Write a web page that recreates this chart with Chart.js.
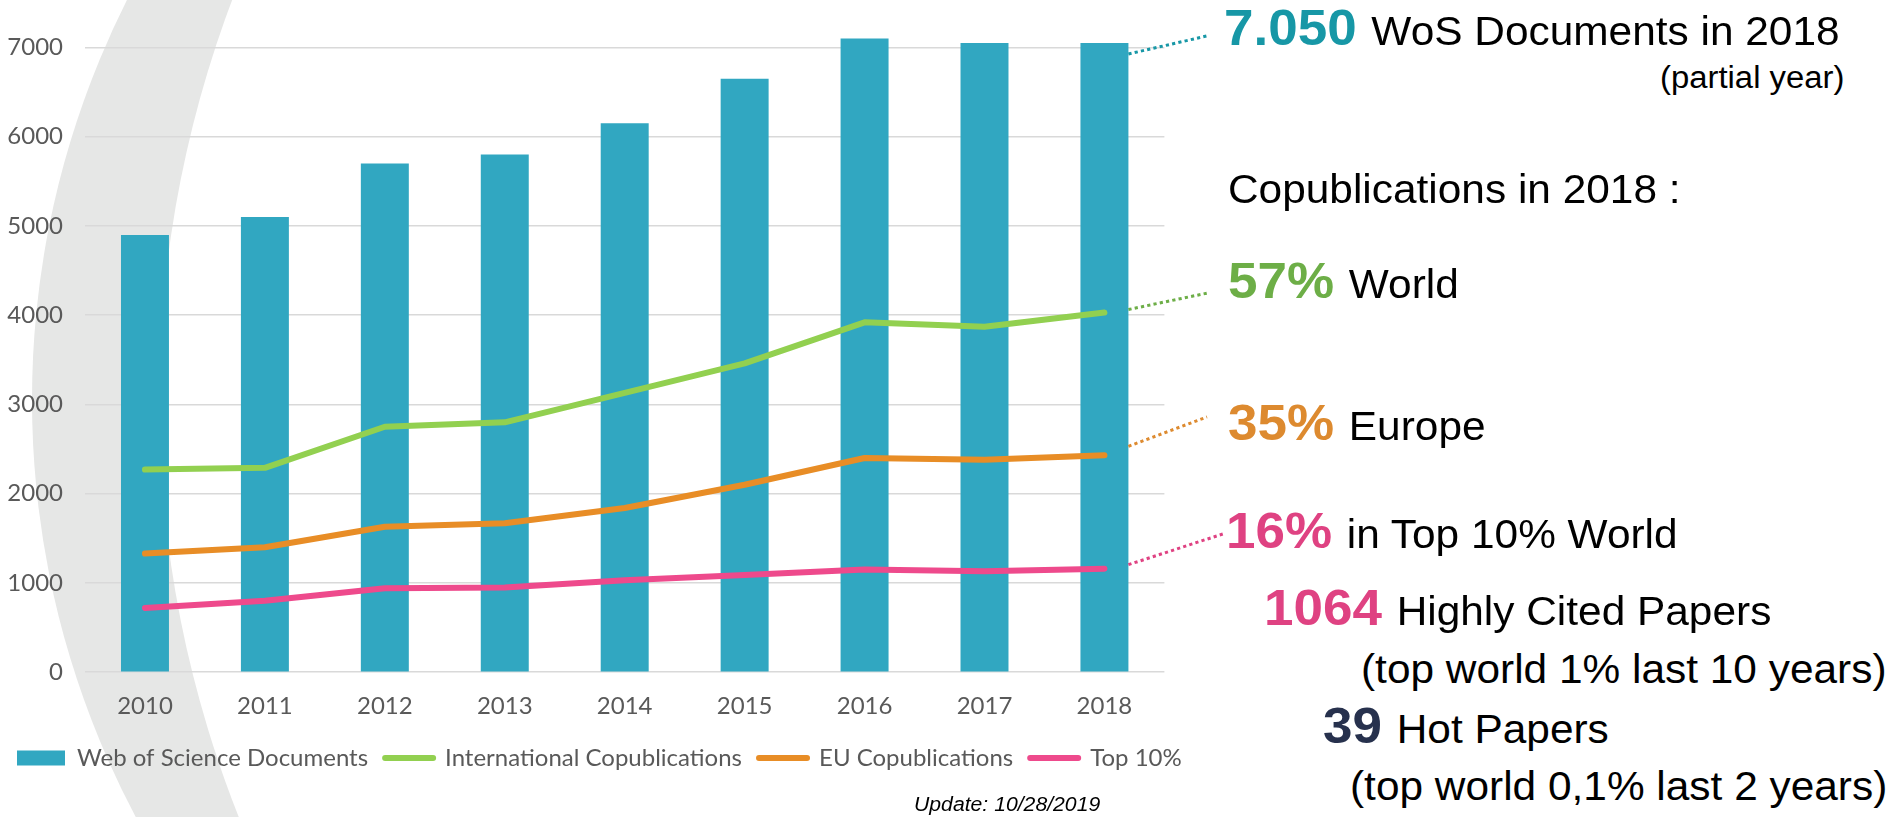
<!DOCTYPE html>
<html><head><meta charset="utf-8">
<script src="https://cdn.jsdelivr.net/npm/chart.js@4.4.1/dist/chart.umd.min.js"></script>
<style>
html,body{margin:0;padding:0;background:#fff;width:1897px;height:817px;overflow:hidden;position:relative;}
#bg{position:absolute;left:0;top:0;}
#wrap{position:absolute;left:0;top:0;width:1320px;height:817px;}
.t{position:absolute;white-space:nowrap;font-family:"Liberation Sans",Arial,sans-serif;color:#000;line-height:1;transform:scaleX(1.06);transform-origin:0 0;}
.big{font-weight:bold;}
.n{font-size:40px;}
</style></head><body>
<svg id="bg" width="1897" height="817">
  <circle cx="922" cy="400" r="890" fill="#E6E7E6"/>
  <circle cx="1289" cy="400" r="1130" fill="#FFFFFF"/>
</svg>
<div id="wrap"><canvas id="c" width="1320" height="817"></canvas></div>

<div class="t" style="left:1224px;top:2.7px;font-size:50px;"><span id="num-wos" class="big" style="color:#1797A6">7.050</span> <span class="n">WoS Documents in 2018</span></div>
<div class="t" style="left:1660px;top:61.5px;font-size:31px;">(partial year)</div>
<div class="t" style="left:1228px;top:169.1px;font-size:40px;">Copublications in 2018 :</div>
<div class="t" style="left:1228px;top:255.7px;font-size:50px;"><span id="num-world" class="big" style="color:#6DAE47">57%</span> <span class="n">World</span></div>
<div class="t" style="left:1228px;top:397.7px;font-size:50px;"><span id="num-eu" class="big" style="color:#DD8A2F">35%</span> <span class="n">Europe</span></div>
<div class="t" style="left:1226px;top:505.7px;font-size:50px;"><span id="num-top" class="big" style="color:#DF4282">16%</span> <span class="n">in Top 10% World</span></div>
<div class="t" style="left:1264px;top:582.7px;font-size:50px;"><span class="big" style="color:#DF4282">1064</span> <span class="n">Highly Cited Papers</span></div>
<div class="t" style="left:1361px;top:649.1px;font-size:40px;">(top world 1% last 10 years)</div>
<div class="t" style="left:1323px;top:700.7px;font-size:50px;"><span class="big" style="color:#27314D">39</span> <span class="n">Hot Papers</span></div>
<div class="t" style="left:1350px;top:766.1px;font-size:40px;">(top world 0,1% last 2 years)</div>
<div class="t" style="left:914px;top:794px;font-size:20px;font-style:italic;">Update: 10/28/2019</div>

<script>
const categories = ['2010','2011','2012','2013','2014','2015','2016','2017','2018'];
const wosDocuments = [4900, 5100, 5700, 5800, 6150, 6650, 7100, 7050, 7050];
const intlCopublications = [2270, 2290, 2750, 2800, 3130, 3460, 3920, 3870, 4030];
const euCopublications = [1330, 1400, 1630, 1670, 1840, 2100, 2400, 2380, 2430];
const top10 = [720, 800, 940, 950, 1030, 1090, 1150, 1130, 1160];
const yTickValues = [0, 1000, 2000, 3000, 4000, 5000, 6000, 7000];

const FONT = {family: 'Lato, "Open Sans", sans-serif', size: 24};
const TICK_COLOR = '#595959';

// dotted connectors from the 2018 values to the callout numbers
const connectors = [
  {ds: 0, el: 'num-wos',   color: '#1797A6', startDy: 11, rise: 9,  gap: 17},
  {ds: 1, el: 'num-world', color: '#6DAE47', startDy: -3, rise: 5,  gap: 20},
  {ds: 2, el: 'num-eu',    color: '#DD8A2F', startDy: -9, rise: 23, gap: 21},
  {ds: 3, el: 'num-top',   color: '#DF4282', startDy: -4, rise: 14, gap: 3}
];

const connectorPlugin = {
  id: 'connectors',
  afterDraw(chart) {
    const ctx = chart.ctx;
    const barMeta = chart.getDatasetMeta(0);
    const last = categories.length - 1;
    const barEl = barMeta.data[last];
    const x0 = barEl.x + barEl.width / 2;
    const yScale = chart.scales.y;
    ctx.save();
    ctx.lineWidth = 3;
    ctx.setLineDash([3.2, 3.2]);
    ctx.lineCap = 'butt';
    connectors.forEach(c => {
      const v = chart.data.datasets[c.ds].data[last];
      const y0 = yScale.getPixelForValue(v) + c.startDy;
      const r = document.getElementById(c.el).getBoundingClientRect();
      const baseline = r.top + 0.905 * 50;
      const x1 = r.left - c.gap;
      const y1 = baseline - c.rise;
      ctx.strokeStyle = c.color;
      ctx.beginPath();
      ctx.moveTo(x0, y0);
      ctx.lineTo(x1, y1);
      ctx.stroke();
    });
    ctx.restore();
  }
};

const lineDs = (label, data, color) => ({
  type: 'line', label, data,
  borderColor: color, backgroundColor: color,
  borderWidth: 6, pointRadius: 0, pointHoverRadius: 0, tension: 0,
  borderCapStyle: 'round', borderJoinStyle: 'round', order: 0
});

new Chart(document.getElementById('c'), {
  type: 'bar',
  data: {
    labels: categories,
    datasets: [
      {type: 'bar', label: 'Web of Science Documents', data: wosDocuments,
       backgroundColor: '#31A7C1', borderWidth: 0, order: 1,
       barPercentage: 0.4, categoryPercentage: 1},
      lineDs('International Copublications', intlCopublications, '#92D050'),
      lineDs('EU Copublications', euCopublications, '#E88D26'),
      lineDs('Top 10%', top10, '#EE4A8C')
    ]
  },
  options: {
    responsive: false,
    animation: false,
    devicePixelRatio: 1,
    layout: {padding: {left: 0, right: 0, top: 29.6, bottom: 37}},
    plugins: {
      tooltip: {enabled: false},
      legend: {
        position: 'bottom', align: 'start',
        labels: {
          font: FONT, color: TICK_COLOR, padding: 17,
          boxHeight: 15, usePointStyle: true, pointStyleWidth: 48,
          generateLabels(chart) {
            return chart.data.datasets.map((ds, i) => ({
              text: ds.label,
              fillStyle: ds.backgroundColor,
              strokeStyle: ds.type === 'line' ? ds.borderColor : ds.backgroundColor,
              lineWidth: ds.type === 'line' ? 6 : 0,
              lineCap: 'round',
              pointStyle: ds.type === 'line' ? 'line' : 'rect',
              fontColor: TICK_COLOR,
              datasetIndex: i,
              hidden: false
            }));
          }
        }
      }
    },
    scales: {
      x: {
        grid: {display: false},
        border: {display: false},
        ticks: {color: TICK_COLOR, font: FONT, padding: 11.5, maxRotation: 0},
        afterFit(s) { s.height = 56.8; }
      },
      y: {
        min: 0, max: 7200,
        afterBuildTicks(s) { s.ticks = yTickValues.map(v => ({value: v})); },
        grid: {color: '#D9D9D9', lineWidth: 1.6, drawTicks: false},
        border: {display: false},
        ticks: {color: TICK_COLOR, font: FONT, padding: 22, callback: v => String(v)},
        afterFit(s) { s.width = 85; s.paddingTop = 0; s.paddingBottom = 0; }
      },
      // invisible spacer axis reserving the room right of the plot
      spacer: {
        type: 'linear', position: 'right', min: 0, max: 1,
        grid: {display: false}, border: {display: false},
        ticks: {display: false},
        afterFit(s) { s.width = 155.6; }
      }
    }
  },
  plugins: [connectorPlugin]
});
</script>
</body></html>
